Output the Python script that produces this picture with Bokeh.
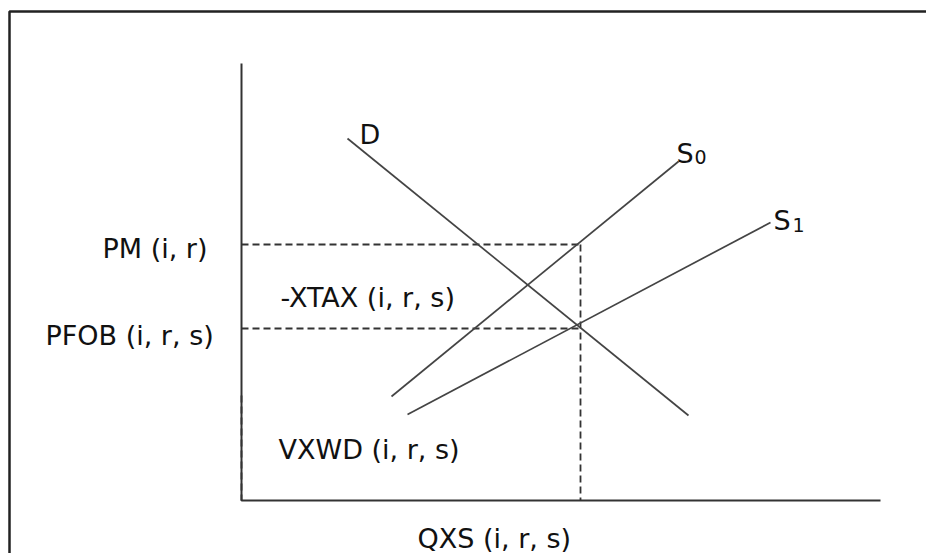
from bokeh.plotting import figure
from bokeh.models import Range1d, ColumnDataSource
from bokeh.core.properties import value
from bokeh.embed import file_html
from bokeh.resources import INLINE

# --- diagram data (picture coordinates: x to the right, y downward) ---
frame_x = [9, 9, 940]
frame_y = [570, 11, 11]

axis_x = [241, 241, 880]
axis_y = [63, 500, 500]

demand_x = [347, 688]
demand_y = [138, 415]

supply0_x = [391, 678]
supply0_y = [396, 161]

supply1_x = [407, 770]
supply1_y = [414, 222]

pm_level = 244
pfob_level = 328
qxs_level = 580
vxwd_top = 395

labels = ["PM (i, r)", "PFOB (i, r, s)", "-XTAX (i, r, s)", "VXWD (i, r, s)",
          "QXS (i, r, s)", "D", "S", "S"]
label_x = [102, 45, 280, 278, 417, 359, 676, 773]
label_y = [248, 335, 297, 449, 538, 134, 153, 220]

subs = ["0", "1"]
sub_x = [694, 792]
sub_y = [156, 224]

FONT = value("DejaVu Sans")

p = figure(width=926, height=553, output_backend="svg", toolbar_location=None,
           x_range=Range1d(0, 926), y_range=Range1d(553, 0),
           min_border=0, outline_line_color=None)
p.axis.visible = False
p.grid.visible = False
p.background_fill_color = "white"
p.border_fill_color = "white"

# outer box
p.line(frame_x, frame_y, line_color="#222222", line_width=2.5)

# axes
p.line(axis_x, axis_y, line_color="#333333", line_width=2)

# dashed guides
p.multi_line(xs=[[axis_x[0], qxs_level], [axis_x[0], qxs_level], [qxs_level, qxs_level],
                 [axis_x[0], axis_x[0]]],
             ys=[[pm_level, pm_level], [pfob_level, pfob_level], [pm_level, axis_y[1]],
                 [vxwd_top, axis_y[1]]],
             line_color="#333333", line_width=1.8, line_dash="7 4")

# curves
p.multi_line(xs=[demand_x, supply0_x, supply1_x], ys=[demand_y, supply0_y, supply1_y],
             line_color="#444444", line_width=1.7)

src = ColumnDataSource(dict(x=label_x, y=label_y, t=labels))
p.text(x="x", y="y", text="t", source=src, text_font=FONT, text_font_size="27px",
       text_color="#111111", text_align="left", text_baseline="alphabetic")

src2 = ColumnDataSource(dict(x=sub_x, y=sub_y, t=subs))
p.text(x="x", y="y", text="t", source=src2, text_font=FONT, text_font_size="19px",
       text_color="#111111", text_align="left", text_baseline="alphabetic")

open("out.html", "w").write(file_html(p, INLINE))
